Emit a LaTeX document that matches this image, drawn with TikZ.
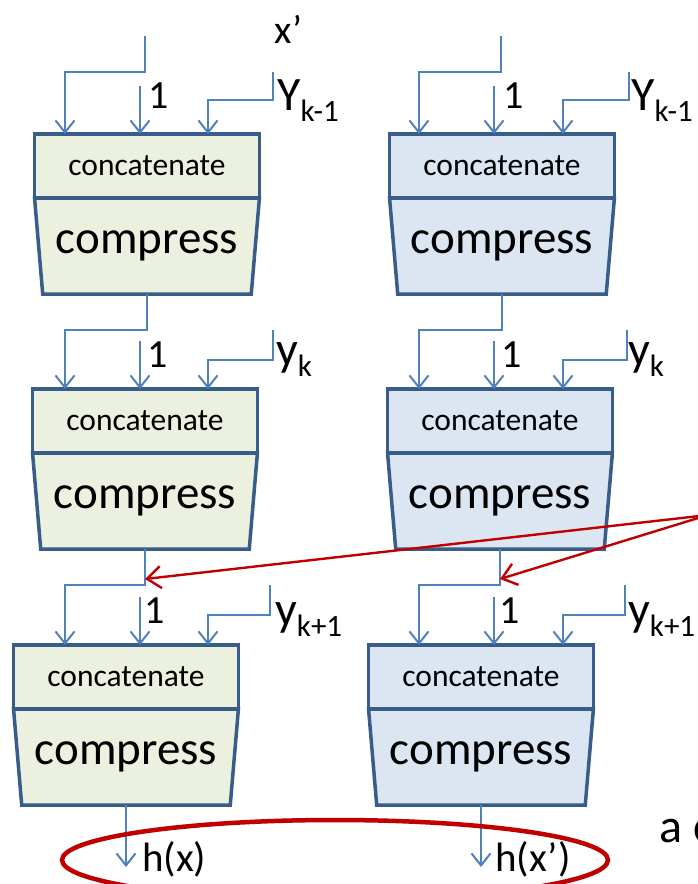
\documentclass[tikz,border=0pt]{standalone}
\usepackage{fontspec}
\setmainfont{Carlito}
\usetikzlibrary{positioning,shapes.geometric,arrows.meta}
\definecolor{slide_blue}{RGB}{79,129,189}
\definecolor{slide_edge}{RGB}{56,93,138}
\definecolor{slide_green}{RGB}{235,241,222}
\definecolor{slide_light}{RGB}{220,230,242}
\definecolor{slide_red}{RGB}{192,0,0}
\newcommand{\sublab}[2]{#1\raisebox{-11pt}{\fontsize{31}{31}\selectfont #2}}

\tikzset{
  catbox/.style={draw=slide_edge, line width=3.5pt, anchor=north,
    minimum width=225pt, minimum height=64pt, inner sep=0pt, outer sep=0pt,
    font=\fontsize{31.5}{31.5}\selectfont},
  cmpbox/.style={draw=slide_edge, line width=3.5pt, trapezium,
    shape border rotate=180, trapezium stretches=true,
    trapezium left angle=76.8, trapezium right angle=76.8,
    minimum width=225pt, minimum height=96pt, inner sep=0pt, outer sep=0pt,
    font=\fontsize{47}{47}\selectfont},
  wire/.style={draw=slide_blue, line width=2pt,
    -{Straight Barb[length=12pt,width=19pt]}},
  hit/.style={draw=slide_red, line width=2.4pt,
    -{Straight Barb[length=14pt,width=22pt]}},
  lbl/.style={inner sep=0pt, anchor=base west, font=\fontsize{40}{40}\selectfont},
  ylbl/.style={inner sep=0pt, anchor=base west, font=\fontsize{48}{48}\selectfont},
}

\begin{document}
\begin{tikzpicture}[x=1pt,y=-1pt]
\useasboundingbox (0,0) rectangle (698,884);
\clip (0,0) rectangle (698,884);

% left column
\node[catbox, fill=slide_green] (catL1) at (147,134) {concatenate};
\node[cmpbox, fill=slide_green, below=0pt of catL1] (cmpL1) {compress};
\node[catbox, fill=slide_green] (catL2) at (145,389) {concatenate};
\node[cmpbox, fill=slide_green, below=0pt of catL2] (cmpL2) {compress};
\node[catbox, fill=slide_green] (catL3) at (126,645) {concatenate};
\node[cmpbox, fill=slide_green, below=0pt of catL3] (cmpL3) {compress};

% right column
\node[catbox, fill=slide_light] (catR1) at (502,134) {concatenate};
\node[cmpbox, fill=slide_light, below=0pt of catR1] (cmpR1) {compress};
\node[catbox, fill=slide_light] (catR2) at (500,389) {concatenate};
\node[cmpbox, fill=slide_light, below=0pt of catR2] (cmpR2) {compress};
\node[catbox, fill=slide_light] (catR3) at (481,645) {concatenate};
\node[cmpbox, fill=slide_light, below=0pt of catR3] (cmpR3) {compress};

% arrow ends on the concatenate boxes
\foreach \n/\y in {1/134, 2/389, 3/645}{
  \coordinate (L\n a) at (65,\y);
  \coordinate (L\n b) at (140,\y);
  \coordinate (L\n c) at (208,\y);
  \coordinate (R\n a) at (419,\y);
  \coordinate (R\n b) at (494,\y);
  \coordinate (R\n c) at (563,\y);
}
\coordinate (topL) at (145,36);
\coordinate (topR) at (501,36);
\coordinate (inL1) at (273,72);
\coordinate (inL2) at (273,330);
\coordinate (inL3) at (270,585);
\coordinate (inR1) at (629,72);
\coordinate (inR2) at (627,330);
\coordinate (inR3) at (625,585);

% chaining values
\draw[wire] (topL) -- ++(0,36) -| (L1a);
\draw[wire] (topR) -- ++(0,36) -| (R1a);
\draw[wire] (cmpL1.south) -- ++(0,36) -| (L2a);
\draw[wire] (cmpR1.south) -- ++(0,36) -| (R2a);
\draw[wire] (cmpL2.south) -- ++(0,36) -| (L3a);
\draw[wire] (cmpR2.south) -- ++(0,36) -| (R3a);
\draw[wire] (cmpL3.south) -- ++(0,62);
\draw[wire] (cmpR3.south) -- ++(0,62);

% the 1 inputs
\foreach \n in {1,2,3}{
  \draw[wire] ([yshift=48pt]L\n b) -- (L\n b);
  \draw[wire] ([yshift=48pt]R\n b) -- (R\n b);
}

% message blocks
\foreach \s in {L,R}{
  \draw[wire] (in\s1) -- ++(0,28) -| (\s1c);
  \draw[wire] (in\s2) -- ++(0,30) -| (\s2c);
  \draw[wire] (in\s3) -- ++(0,30) -| (\s3c);
}

% labels
\node[lbl] (xprime) at (274,43) {x’};
\node[lbl] (oneL1) at (148,108) {1};
\node[lbl] (oneR1) at (503,108) {1};
\node[lbl] (oneL2) at (147,367) {1};
\node[lbl] (oneR2) at (501,367) {1};
\node[lbl] (oneL3) at (144,623) {1};
\node[lbl] (oneR3) at (499,623) {1};
\node[ylbl] (msgL1) at (277,110) {\sublab{Y}{k-1}};
\node[ylbl] (msgR1) at (631,110) {\sublab{Y}{k-1}};
\node[ylbl] (msgL2) at (276,365) {\sublab{y}{k}};
\node[ylbl] (msgR2) at (628,365) {\sublab{y}{k}};
\node[ylbl] (msgL3) at (275,625) {\sublab{y}{k+1}};
\node[ylbl] (msgR3) at (628,625) {\sublab{y}{k+1}};
\node[lbl, font=\fontsize{41}{41}\selectfont] (hashL) at (142,871) {h(x)};
\node[lbl, font=\fontsize{41}{41}\selectfont] (hashR) at (495,871) {h(x’)};
\node[ylbl] (note) at (659,842) {a c};

% collision
\coordinate (src) at (708,515);
\draw[hit] (src) -- ([yshift=-30pt]cmpL2.south);
\draw[hit] (src) -- ([yshift=-30pt]cmpR2.south);
\node[draw=slide_red, line width=4.5pt, ellipse, minimum width=546pt,
      minimum height=80pt] (pair) at (335,860) {};
\end{tikzpicture}
\end{document}
